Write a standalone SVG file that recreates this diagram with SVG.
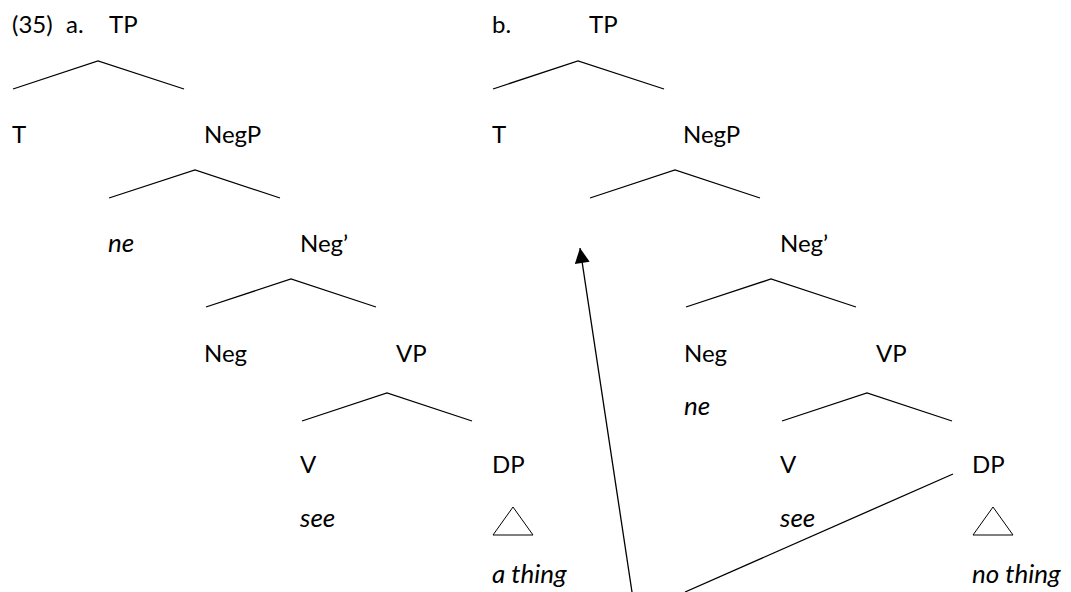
<svg xmlns="http://www.w3.org/2000/svg" width="1071" height="592" viewBox="0 0 1071 592">
<defs>
<style>
text{font-family:Lato,"Noto Sans","DejaVu Sans",sans-serif;font-size:24px;fill:#000}
.i{font-style:italic;font-size:26px}
.br{fill:none;stroke:#000;stroke-width:1.3}
.tri{fill:none;stroke:#000;stroke-width:1}
.ln{fill:none;stroke:#000;stroke-width:1.3}
</style>
<marker id="ah" viewBox="0 0 10 10" refX="10" refY="5" markerWidth="16" markerHeight="15" markerUnits="userSpaceOnUse" orient="auto">
<path d="M0,0 L10,5 L0,10 z" fill="#000"/>
</marker>
</defs>
<rect width="1071" height="592" fill="#fff"/>
<g id="tree-a">
<g id="a-label"><text x="12" y="33">(35)<tspan x="66">a.</tspan></text></g>
<g id="a-TP"><text x="109" y="33">TP</text></g>
<g id="a-T"><text x="12" y="143">T</text></g>
<g id="a-NegP"><text x="204" y="143">NegP</text></g>
<g id="a-ne"><text class="i" x="108" y="252">ne</text></g>
<g id="a-Negbar"><text x="300" y="252">Neg’</text></g>
<g id="a-Neg"><text x="204" y="362">Neg</text></g>
<g id="a-VP"><text x="396" y="362">VP</text></g>
<g id="a-V"><text x="300" y="473">V</text><text class="i" x="300" y="527">see</text></g>
<g id="a-DP"><text x="492" y="473">DP</text><polygon class="tri" points="493,535 513,507 533,535"/><text class="i" x="492" y="583">a thing</text></g>
</g>
<g id="tree-b">
<g id="b-label"><text x="492" y="33">b.</text></g>
<g id="b-TP"><text x="589" y="33">TP</text></g>
<g id="b-T"><text x="492" y="143">T</text></g>
<g id="b-NegP"><text x="683" y="143">NegP</text></g>
<g id="b-Negbar"><text x="780" y="252">Neg’</text></g>
<g id="b-Neg"><text x="684" y="362">Neg</text><text class="i" x="684" y="415">ne</text></g>
<g id="b-VP"><text x="876" y="362">VP</text></g>
<g id="b-V"><text x="780" y="473">V</text><text class="i" x="780" y="527">see</text></g>
<g id="b-DP"><text x="972" y="473">DP</text><polygon class="tri" points="973,535 993,507 1013,535"/><text class="i" x="972" y="583">no thing</text></g>
</g>
<g id="connectors">
<polyline class="br" points="13,89 98,61 184,89"/>
<polyline class="br" points="109,198 195,170 280,198"/>
<polyline class="br" points="206,307 291,279 376,307"/>
<polyline class="br" points="302,421 387,393 472,421"/>
<polyline class="br" points="493,89 578,61 664,89"/>
<polyline class="br" points="590,198 675,170 760,198"/>
<polyline class="br" points="686,307 771,279 856,307"/>
<polyline class="br" points="782,421 867,393 952,421"/>
<line class="ln" x1="632" y1="592" x2="580" y2="248" marker-end="url(#ah)"/>
<line class="ln" x1="685" y1="592" x2="953" y2="474"/>
</g>
</svg>
